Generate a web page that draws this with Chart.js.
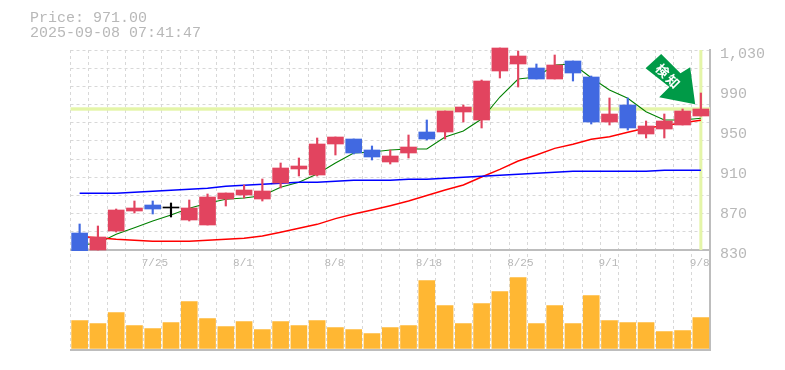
<!DOCTYPE html>
<html>
<head>
<meta charset="utf-8">
<style>html,body{margin:0;padding:0;background:#fff}canvas{display:block}</style>
<script src="https://cdn.jsdelivr.net/npm/chart.js@4/dist/chart.umd.js"></script>
</head>
<body>
<canvas id="c" width="785" height="370"></canvas>
<script>
const categories = ['7/18','7/22','7/23','7/24','7/25','7/28','7/29','7/30','7/31','8/1','8/4','8/5','8/6','8/7','8/8','8/12','8/13','8/14','8/15','8/18','8/19','8/20','8/21','8/22','8/25','8/26','8/27','8/28','8/29','9/1','9/2','9/3','9/4','9/5','9/8'];
const shownDates = ['7/25','8/1','8/8','8/18','8/25','9/1','9/8'];
const opens  = [847,830,849,869,875,872,860,855,881,885,881,897,911,905,936,941,930,918,927,948,948,968,960,1009,1016,1012,1001,1019,1003,958,975,946,951,955,964];
const closes = [829.3,843,870,872,871,872,872,883,887,890,889,912,914,936,943,927,923,924,933,941,969,973,999,1032,1024,1001,1015,1007,958,966,952,954,959,969,971];
const highs  = [856,854,871,879,879,877,880,886,887,895,901,917,922,942,943,941,934,930,945,960,969,975,1000,1032,1029,1016,1025,1019,1004,982,982,959,966,971,987];
const lows   = [830,830,848,867,866,863,859,855,874,882,879,892,904,904,925,926,920,916,922,940,941,958,952,1002,993,1001,1001,999,956,955,950,942,942,955,964];
const maShort = [835,836.7,845.7,852.3,859,865,871.7,876.7,880.7,882,884.3,892.7,897.7,906,917,927,928,930,931,931,943,949,961,983,1001,1003,1015,1016,1002.3,990,981.7,968.3,960,960,961.7];
const maMid   = [843.5,842.3,840.7,839.7,838.7,838.7,838.7,839.7,840.7,841.7,844,847.7,851.7,855.7,861.4,866,870,874.3,879,884.5,890,895,903,910.7,919,925,931.7,935.7,940.7,943.3,947.7,952,954.3,957.3,959.7];
const maLong  = [886.7,886.7,886.7,887.7,888.7,889.7,890.7,891.7,893.7,894.7,895.7,896.7,897.7,897.7,898.7,899.7,899.7,899.7,900.7,900.7,901.7,902.7,903.7,904.7,905.7,906.7,907.7,908.7,908.7,908.7,908.7,908.7,909.7,909.7,909.7];
const volumes = [28,25,36,23,20,26,47,30,22,27,19,27,23,28,21,19,15,21,23,68,43,25,45,57,71,25,43,25,53,28,26,26,17,18,31];
const priceTicks = [830,870,910,950,990,1030];
const currentPrice = 971;
const titleLines = ['Price: 971.00','2025-09-08 07:41:47'];
const signalChars = ['検','知'];

const RED='#e2445f', BLUE='#4169e1', BLACK='#000000', ORANGE='#ffb733', GRID='#d8d8d8', AXIS='#bdbdbd', TEXT='#b8b8b8', MARK='#e4f5a8';
const candleColor = i => closes[i] > opens[i] ? RED : closes[i] < opens[i] ? BLUE : BLACK;
const colors = categories.map((_, i) => candleColor(i));
const bodies = categories.map((_, i) => opens[i] === closes[i] ? [opens[i], opens[i] + 1] : [opens[i], closes[i]]);
const wicks  = categories.map((_, i) => [lows[i], highs[i]]);

const decorations = {
  id: 'decorations',
  beforeDatasetsDraw(chart) {
    const {ctx, chartArea: a, scales: {x, y}} = chart;
    ctx.save();
    ctx.fillStyle = MARK;
    const py = y.getPixelForValue(currentPrice);
    ctx.fillRect(a.left, py - 1.7, a.right - a.left, 3.4);
    const px = x.getPixelForValue(categories.length - 1);
    ctx.fillRect(px - 1.5, y.top, 3, y.bottom - y.top);
    ctx.restore();
  },
  afterDatasetsDraw(chart) {
    const {ctx, scales: {x, y}} = chart;
    const tx = x.getPixelForValue(categories.length - 1) - 5.7;
    const ty = y.getPixelForValue(currentPrice) - 4.7;
    const arrow = [[0,0],[-36,-7],[-25.7,-17.3],[-49.6,-36],[-34,-50.3],[-14.7,-31],[-5,-37]];
    ctx.save();
    ctx.fillStyle = '#009a47';
    ctx.beginPath();
    arrow.forEach(([dx, dy], i) => i ? ctx.lineTo(tx + dx, ty + dy) : ctx.moveTo(tx + dx, ty + dy));
    ctx.closePath();
    ctx.fill();
    ctx.translate(tx - 27.3, ty - 28.3);
    ctx.rotate(Math.PI / 4);
    ctx.fillStyle = '#ffffff';
    ctx.font = 'bold 13px "Noto Sans CJK JP"';
    ctx.textAlign = 'center';
    ctx.textBaseline = 'middle';
    signalChars.forEach((ch, i) => ctx.fillText(ch, (i - 0.5) * 15, 0));
    ctx.restore();
    ctx.save();
    ctx.fillStyle = TEXT;
    ctx.font = '15px "Liberation Mono"';
    ctx.textAlign = 'left';
    ctx.textBaseline = 'middle';
    titleLines.forEach((t, i) => ctx.fillText(t, 30, 18 + i * 15));
    ctx.restore();
  }
};

new Chart(document.getElementById('c'), {
  data: {
    labels: categories,
    datasets: [
      {type:'line', data:maShort, borderColor:'#008000', borderWidth:1.1, pointRadius:0, tension:0, order:5, yAxisID:'y'},
      {type:'line', data:maMid,   borderColor:'#ff0000', borderWidth:1.4, pointRadius:0, tension:0, order:4, yAxisID:'y'},
      {type:'line', data:maLong,  borderColor:'#0000ff', borderWidth:1.4, pointRadius:0, tension:0, order:3, yAxisID:'y'},
      {type:'bar', data:wicks,  backgroundColor:colors, barThickness:1.5, grouped:false, order:2, yAxisID:'y', clip:false},
      {type:'bar', data:bodies, backgroundColor:colors, barThickness:16, grouped:false, order:1, yAxisID:'y', clip:false},
      {type:'bar', data:volumes, backgroundColor:ORANGE, barThickness:16, grouped:false, order:6, yAxisID:'yVol'}
    ]
  },
  options: {
    responsive:false, animation:false, devicePixelRatio:1,
    layout:{padding:{left:70.5, top:50, right:0, bottom:20}},
    plugins:{legend:{display:false}, tooltip:{enabled:false}, title:{display:false}},
    scales:{
      x:{
        type:'category', position:'bottom', offset:true,
        grid:{offset:true, color:GRID, lineWidth:1, drawTicks:false},
        border:{color:AXIS, width:2, dash:[3,3]},
        ticks:{display:false, autoSkip:false},
        afterFit(s){ s.height = 0; }
      },
      xDates:{
        type:'category', position:{y:830}, offset:true,
        grid:{display:false, drawTicks:false},
        border:{color:AXIS, width:2},
        ticks:{
          autoSkip:false, maxRotation:0, minRotation:0, align:'start', padding:6, labelOffset:-11,
          color:TEXT, font:{family:'"Liberation Mono"', size:11},
          callback(v){ const l = this.getLabelForValue(v); return shownDates.includes(l) ? l : ''; }
        }
      },
      y:{
        type:'linear', position:'right', stack:'all', stackWeight:2, min:830, max:1030,
        afterFit(s){ s.width = 75; },
        afterBuildTicks(s){
          const rows = [];
          for (let k = 0; k <= 11; k++) rows.push({value: 830 + k * 200 / 11, isGrid:true});
          priceTicks.forEach(v => rows.push({value:v, isLabel:true}));
          s.ticks = rows;
        },
        grid:{drawTicks:false, lineWidth:1, color:c => c.tick && c.tick.isGrid ? GRID : 'rgba(0,0,0,0)'},
        border:{color:AXIS, width:2, dash:[3,3]},
        ticks:{
          autoSkip:false, padding:10, labelOffset:4, color:TEXT, font:{family:'"Liberation Mono"', size:15},
          callback(v, i, t){ return t[i].isLabel ? v.toLocaleString('en-US') : ''; }
        }
      },
      yVol:{
        type:'linear', position:'right', stack:'all', stackWeight:1, min:-1.5, max:98.5,
        grid:{display:false, drawTicks:false},
        border:{color:AXIS, width:2},
        ticks:{display:false}
      }
    }
  },
  plugins:[decorations]
});
</script>
</body>
</html>
